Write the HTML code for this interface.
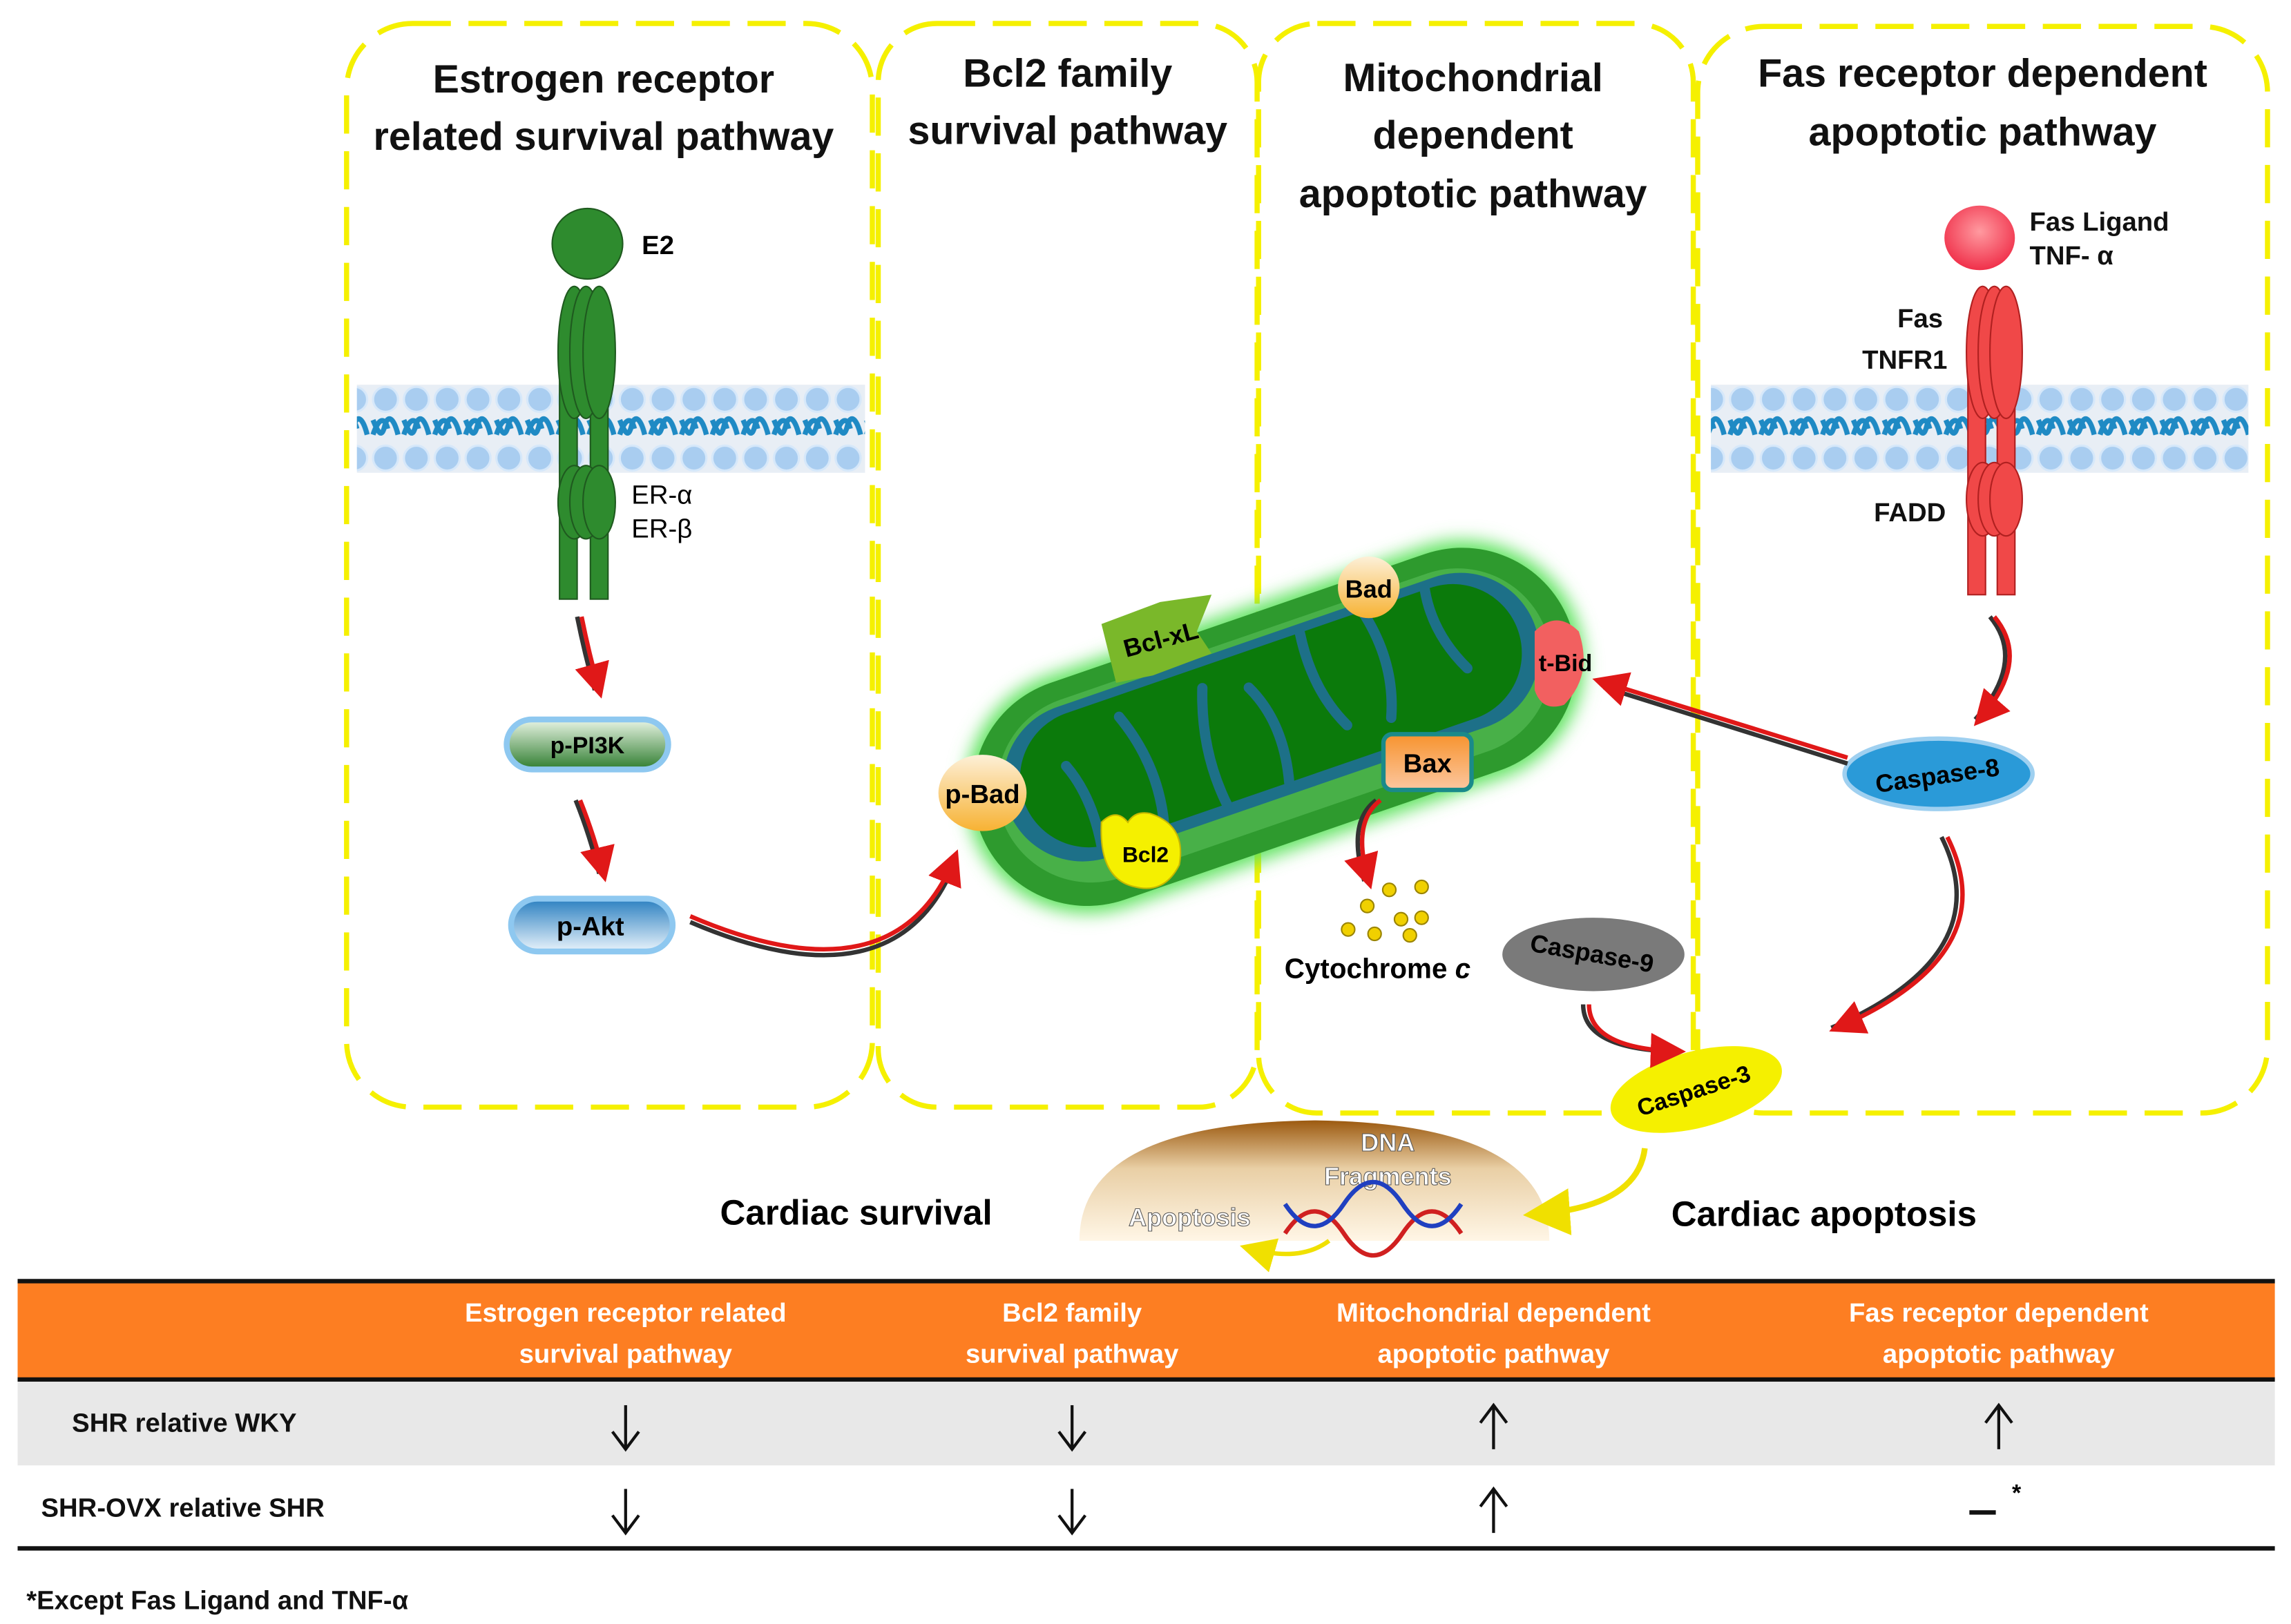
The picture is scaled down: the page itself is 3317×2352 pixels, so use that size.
<!DOCTYPE html>
<html><head><meta charset="utf-8"><style>
html,body{margin:0;padding:0;background:#fff}
svg{display:block}
text{font-family:"Liberation Sans",sans-serif}
</style></head><body>
<svg width="3317" height="2352" viewBox="0 0 1560 1106" preserveAspectRatio="none" xmlns="http://www.w3.org/2000/svg">
<defs>
<pattern id="mem" x="0" y="262" width="21" height="60" patternUnits="userSpaceOnUse">
<rect width="21" height="60" fill="#e8eef5"/>
<circle cx="10.5" cy="10" r="8.5" fill="#a9cdf0" stroke="#d6e8fa" stroke-width="1.5"/>
<circle cx="10.5" cy="50" r="8.5" fill="#a9cdf0" stroke="#d6e8fa" stroke-width="1.5"/>
<path d="M2 24 C6 34 8 36 10 28 C12 20 16 22 19 34" fill="none" stroke="#1f8ac4" stroke-width="3.5"/>
<path d="M2 34 C6 22 10 22 12 30" fill="none" stroke="#1f8ac4" stroke-width="3.5"/>
</pattern>
<linearGradient id="pill" x1="0" y1="0" x2="0" y2="1"><stop offset="0" stop-color="#2a7fc0"/><stop offset="1" stop-color="#e9f3fb"/></linearGradient>
<linearGradient id="pill2" x1="0" y1="0" x2="0" y2="1"><stop offset="0" stop-color="#e9f5e5"/><stop offset="1" stop-color="#2f7d2f"/></linearGradient>
<linearGradient id="bad" x1="0" y1="0" x2="0" y2="1"><stop offset="0" stop-color="#f7b233"/><stop offset="1" stop-color="#fdf0d8"/></linearGradient>
<linearGradient id="bax" x1="0" y1="0" x2="0" y2="1"><stop offset="0" stop-color="#f7932e"/><stop offset="1" stop-color="#fcc7a0"/></linearGradient>
<radialGradient id="fas" cx="0.5" cy="0.4" r="0.6"><stop offset="0" stop-color="#ff9aa0"/><stop offset="1" stop-color="#f0304a"/></radialGradient>
<linearGradient id="dna" x1="0" y1="0" x2="0" y2="1"><stop offset="0" stop-color="#9c5a10"/><stop offset="0.4" stop-color="#e9cfa5"/><stop offset="1" stop-color="#fff6e6"/></linearGradient>
<filter id="glow"><feGaussianBlur stdDeviation="6"/></filter>
<marker id="ar" markerWidth="8" markerHeight="8" refX="6" refY="4" orient="auto"><path d="M0 0 L8 4 L0 8 Z" fill="#e01818"/></marker>
<marker id="ay" markerWidth="8" markerHeight="8" refX="6" refY="4" orient="auto"><path d="M0 0 L8 4 L0 8 Z" fill="#f0e000"/></marker>
</defs>

<g fill="none" stroke="#f5f000" stroke-width="3.5" stroke-dasharray="26 12">
<rect x="236" y="16" width="358" height="738" rx="45"/>
<rect x="598" y="16" width="258" height="738" rx="40"/>
<rect x="857" y="16" width="296" height="742" rx="40"/>
<rect x="1156" y="18" width="388" height="740" rx="45"/>
</g>
<g font-weight="bold" font-size="27" text-anchor="middle" fill="#111">
<text x="411" y="63">Estrogen receptor</text>
<text x="411" y="102">related survival pathway</text>
<text x="727" y="59">Bcl2 family</text>
<text x="727" y="98">survival pathway</text>
<text x="1003" y="62">Mitochondrial</text>
<text x="1003" y="101">dependent</text>
<text x="1003" y="141">apoptotic  pathway</text>
<text x="1350" y="59">Fas receptor dependent</text>
<text x="1350" y="99">apoptotic pathway</text>
</g>

<rect x="243" y="262" width="346" height="60" fill="url(#mem)"/>
<rect x="1165" y="262" width="366" height="60" fill="url(#mem)"/>

<g fill="#2e8b2e" stroke="#1f5a1f" stroke-width="1">
<circle cx="400" cy="166" r="24"/>
<rect x="381" y="230" width="12" height="178"/><rect x="402" y="230" width="12" height="178"/>
<ellipse cx="391" cy="240" rx="11" ry="45"/><ellipse cx="399" cy="240" rx="11" ry="45"/><ellipse cx="408" cy="240" rx="11" ry="45"/>
<ellipse cx="391" cy="342" rx="11" ry="25"/><ellipse cx="399" cy="342" rx="11" ry="25"/><ellipse cx="408" cy="342" rx="11" ry="25"/>
</g>
<text x="437" y="173" font-family="Liberation Serif" font-weight="bold" font-size="18">E2</text>
<text x="430" y="343" font-size="18">ER-α</text>
<text x="430" y="366" font-size="18">ER-β</text>

<g fill="#f04848" stroke="#b02020" stroke-width="1">
<rect x="1340" y="230" width="12" height="175"/><rect x="1360" y="230" width="12" height="175"/>
<ellipse cx="1350" cy="240" rx="11" ry="45"/><ellipse cx="1358" cy="240" rx="11" ry="45"/><ellipse cx="1366" cy="240" rx="11" ry="45"/>
<ellipse cx="1350" cy="340" rx="11" ry="25"/><ellipse cx="1358" cy="340" rx="11" ry="25"/><ellipse cx="1366" cy="340" rx="11" ry="25"/>
</g>
<ellipse cx="1348" cy="162" rx="24" ry="22" fill="url(#fas)"/>
<g font-weight="bold" font-size="18" fill="#111">
<text x="1382" y="157">Fas Ligand</text><text x="1382" y="180">TNF- α</text>
<text x="1292" y="223">Fas</text><text x="1268" y="251">TNFR1</text><text x="1276" y="355">FADD</text>
</g>

<rect x="345" y="490" width="110" height="34" rx="17" fill="url(#pill2)" stroke="#8ec8f0" stroke-width="4"/>
<text x="400" y="513" text-anchor="middle" font-weight="bold" font-size="16">p-PI3K</text>
<rect x="348" y="612" width="110" height="36" rx="18" fill="url(#pill)" stroke="#8ec8f0" stroke-width="4"/>
<text x="402" y="637" text-anchor="middle" font-weight="bold" font-size="18">p-Akt</text>

<!-- mitochondrion -->
<g transform="rotate(-19 868 495)">
<rect x="650" y="412" width="436" height="166" rx="83" fill="#5fe35f" filter="url(#glow)"/>
<rect x="655" y="417" width="426" height="156" rx="78" fill="#2e9a2e"/>
<rect x="672" y="430" width="392" height="128" rx="64" fill="#48b048"/>
<rect x="678" y="434" width="380" height="108" rx="54" fill="#1d7088"/>
<rect x="690" y="440" width="356" height="94" rx="47" fill="#0b7a0b"/>
<g stroke="#1d7088" stroke-width="7" fill="none" stroke-linecap="round">
<path d="M730 534 q5 -35 -5 -60"/><path d="M775 534 q10 -40 -5 -80"/><path d="M820 534 q-5 -40 10 -80"/><path d="M865 534 q10 -40 -5 -70"/><path d="M905 440 q-5 40 10 70"/><path d="M950 440 q10 40 -5 75"/><path d="M995 440 q-5 30 10 60"/>
</g>
</g>
<path d="M750 425 l40 -15 l35 -5 l-10 25 l10 15 l-40 15 l-25 5 l-5 -20 z" fill="#7ab82a"/>
<text x="792" y="441" text-anchor="middle" font-weight="bold" font-size="17" transform="rotate(-15 792 441)">Bcl-xL</text>
<ellipse cx="932" cy="400" rx="21" ry="21" fill="url(#bad)" transform="rotate(180 932 400)"/>
<text x="932" y="407" text-anchor="middle" font-weight="bold" font-size="17">Bad</text>
<path d="M1045 430 q15 -15 30 0 q10 30 -10 50 q-15 5 -20 -10 z" fill="#f26060"/>
<text x="1066" y="457" text-anchor="middle" font-weight="bold" font-size="16">t-Bid</text>
<rect x="942" y="500" width="60" height="38" rx="6" fill="url(#bax)" stroke="#1a8a8a" stroke-width="3"/>
<text x="972" y="526" text-anchor="middle" font-weight="bold" font-size="18">Bax</text>
<ellipse cx="669" cy="540" rx="30" ry="26" fill="url(#bad)" transform="rotate(180 669 540)"/>
<text x="669" y="547" text-anchor="middle" font-weight="bold" font-size="18">p-Bad</text>
<path d="M750 560 q10 -10 18 0 q5 -8 15 -6 q25 8 20 35 q-10 20 -30 15 q-25 -5 -23 -44z" fill="#f5f000" stroke="#c8b800"/>
<text x="780" y="587" text-anchor="middle" font-weight="bold" font-size="15">Bcl2</text>

<g fill="#f0d000" stroke="#9a8400">
<circle cx="946" cy="606" r="4.5"/><circle cx="968" cy="604" r="4.5"/><circle cx="931" cy="617" r="4.5"/><circle cx="954" cy="626" r="4.5"/><circle cx="968" cy="625" r="4.5"/><circle cx="918" cy="633" r="4.5"/><circle cx="936" cy="636" r="4.5"/><circle cx="960" cy="637" r="4.5"/>
</g>
<text x="938" y="666" text-anchor="middle" font-family="Liberation Serif" font-weight="bold" font-size="19">Cytochrome <tspan font-style="italic">c</tspan></text>

<ellipse cx="1320" cy="527" rx="64" ry="24" fill="#2a9ad8" stroke="#9fd0f0" stroke-width="3"/>
<text x="1320" y="534" text-anchor="middle" font-weight="bold" font-size="17" transform="rotate(-8 1320 534)">Caspase-8</text>
<ellipse cx="1085" cy="650" rx="62" ry="25" fill="#7a7a7a"/>
<text x="1083" y="655" text-anchor="middle" font-weight="bold" font-size="17" transform="rotate(10 1083 655)">Caspase-9</text>
<ellipse cx="1155" cy="742" rx="60" ry="26" fill="#f5f000" transform="rotate(-15 1155 742)"/>
<text x="1155" y="748" text-anchor="middle" font-weight="bold" font-size="16" transform="rotate(-18 1155 748)">Caspase-3</text>

<g fill="none" stroke-width="3">
<g stroke="#333"><path d="M393 420 q5 25 12 50"/><path d="M392 545 q10 25 16 50"/><path d="M470 628 q140 60 180 -40"/><path d="M1355 420 q25 30 -10 70"/><path d="M1258 520 L1092 468"/><path d="M937 545 q-20 15 -8 55"/><path d="M1322 570 q40 80 -75 130"/><path d="M1078 684 q0 30 60 32"/></g>
<g stroke="#e01818" marker-end="url(#ar)"><path d="M396 420 q5 25 12 50"/><path d="M395 545 q10 25 16 50"/><path d="M470 624 q140 60 180 -40"/><path d="M1358 420 q25 30 -10 70"/><path d="M1258 516 L1090 464"/><path d="M940 545 q-20 15 -8 55"/><path d="M1326 570 q40 80 -75 130"/><path d="M1082 684 q0 30 60 32"/></g>
</g>

<path d="M735 845 q0 -80 160 -82 q160 2 160 82 z" fill="url(#dna)"/>
<text x="945" y="784" text-anchor="middle" font-weight="bold" font-size="17" fill="#fff" stroke="#555" stroke-width="0.5">DNA</text>
<text x="945" y="807" text-anchor="middle" font-weight="bold" font-size="17" fill="#fff" stroke="#555" stroke-width="0.5">Fragments</text>
<text x="810" y="835" text-anchor="middle" font-weight="bold" font-size="17" fill="#fff" stroke="#555" stroke-width="0.5">Apoptosis</text>
<path d="M875 840 q20 -30 40 0 q20 30 40 0 q20 -30 40 0" fill="none" stroke="#d02020" stroke-width="3"/>
<path d="M875 820 q20 30 40 0 q20 -30 40 0 q20 30 40 0" fill="none" stroke="#2040c0" stroke-width="3"/>
<path d="M1120 782 q-5 40 -75 45" fill="none" stroke="#f0e000" stroke-width="4" marker-end="url(#ay)"/>
<path d="M905 845 q-20 15 -55 5" fill="none" stroke="#f0e000" stroke-width="3" marker-end="url(#ay)"/>
<text x="583" y="834" text-anchor="middle" font-weight="bold" font-size="24">Cardiac survival</text>
<text x="1242" y="835" text-anchor="middle" font-weight="bold" font-size="24">Cardiac apoptosis</text>

<rect x="12" y="872" width="1537" height="68" fill="#fd7e22"/>
<rect x="12" y="871" width="1537" height="3" fill="#111"/>
<rect x="12" y="938" width="1537" height="3" fill="#111"/>
<rect x="12" y="941" width="1537" height="57" fill="#e8e8e8"/>
<rect x="12" y="1053" width="1537" height="3" fill="#111"/>
<g font-weight="bold" font-size="18" fill="#fff" text-anchor="middle">
<text x="426" y="900">Estrogen receptor related</text><text x="426" y="928">survival pathway</text>
<text x="730" y="900">Bcl2 family</text><text x="730" y="928">survival pathway</text>
<text x="1017" y="900">Mitochondrial dependent</text><text x="1017" y="928">apoptotic pathway</text>
<text x="1361" y="900">Fas receptor dependent</text><text x="1361" y="928">apoptotic pathway</text>
</g>
<g font-weight="bold" font-size="18" fill="#111">
<text x="49" y="975">SHR relative WKY</text>
<text x="28" y="1033">SHR-OVX relative SHR</text>
<text x="18" y="1096">*Except Fas Ligand and TNF-α</text>
</g>
<g fill="none" stroke="#111" stroke-width="2">
<path d="M426 957v30M417 975l9 12 9-12"/><path d="M730 957v30M721 975l9 12 9-12"/>
<path d="M1017 987v-30M1008 969l9-12 9 12"/><path d="M1361 987v-30M1352 969l9-12 9 12"/>
<path d="M426 1014v30M417 1032l9 12 9-12"/><path d="M730 1014v30M721 1032l9 12 9-12"/>
<path d="M1017 1044v-30M1008 1026l9-12 9 12"/>
<path d="M1341 1030h18" stroke-width="3"/>
</g>
<text x="1370" y="1022" font-size="16" font-weight="bold">*</text>
</svg>
</body></html>
